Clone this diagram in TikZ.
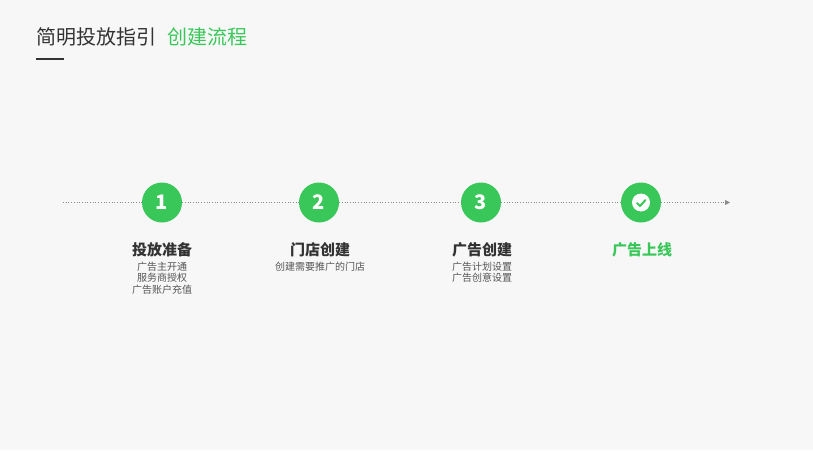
\documentclass[tikz,border=0pt]{standalone}
\usepackage{fontspec}
\setmainfont{Noto Sans CJK SC}
\usetikzlibrary{arrows.meta}
\definecolor{wxgreen}{RGB}{58,199,89}
\definecolor{bggray}{RGB}{247,247,247}
\definecolor{inkgray}{RGB}{51,51,51}
\definecolor{notegray}{RGB}{85,85,85}
\definecolor{linegray}{RGB}{140,140,140}

\begin{document}
\begin{tikzpicture}[x=1pt, y=-1pt,
  stepdot/.style={circle, fill=wxgreen, minimum size=40pt, inner sep=0pt,
    text=white, font=\bfseries\fontsize{20}{20}\selectfont},
  steptitle/.style={anchor=base, inner sep=0pt, text=inkgray,
    font=\bfseries\fontsize{15}{15}\selectfont},
  stepnote/.style={anchor=north, inner sep=0pt, align=center, text=notegray,
    font=\fontsize{10}{11.5}\selectfont},
  dotline/.style={linegray, line width=0.9pt, dash pattern=on 0.9pt off 1.8pt}]
\fill [bggray] (0,0) rectangle (813,450);
% header
\node (head) [anchor=base west, inner sep=0pt, text=inkgray,
  font=\fontsize{20}{20}\selectfont] at (36,44) {简明投放指引};
\node (headsub) [anchor=base west, inner sep=0pt, text=wxgreen,
  font=\fontsize{20}{20}\selectfont] at ([xshift=11pt]head.base east) {创建流程};
\draw [inkgray, line width=1.5pt] (36,59) -- (64,59);
% steps
\coordinate (start) at (63,202.5);
\coordinate (end) at (730,202.5);
\node (s1) [stepdot] at (162,202.5) {1};
\node (s2) [stepdot] at (319,202.5) {2};
\node (s3) [stepdot] at (481,202.5) {3};
\node (s4) [stepdot] at (641,202.5) {};
\draw [dotline] (start) -- (s1);
\draw [dotline] (s1) -- (s2);
\draw [dotline] (s2) -- (s3);
\draw [dotline] (s3) -- (s4);
\draw [dotline, -{Triangle[length=5pt, width=5pt]}] (s4) -- (end);
\fill [white] (s4.center) circle (9);
\draw [wxgreen, line width=2pt, line cap=round, line join=round]
  ([shift={(-4,0.5)}]s4.center) -- ++(3,3) -- ++(5.5,-6);
% labels
\node (t1) [steptitle] at (162,255) {投放准备};
\node (n1) [stepnote] at (162,261.5) {广告主开通\\服务商授权\\广告账户充值};
\node (t2) [steptitle] at (320,255) {门店创建};
\node (n2) [stepnote] at (320,261.5) {创建需要推广的门店};
\node (t3) [steptitle] at (482,255) {广告创建};
\node (n3) [stepnote] at (482,261.5) {广告计划设置\\广告创意设置};
\node (t4) [steptitle, text=wxgreen] at (642,255) {广告上线};
\end{tikzpicture}
\end{document}
